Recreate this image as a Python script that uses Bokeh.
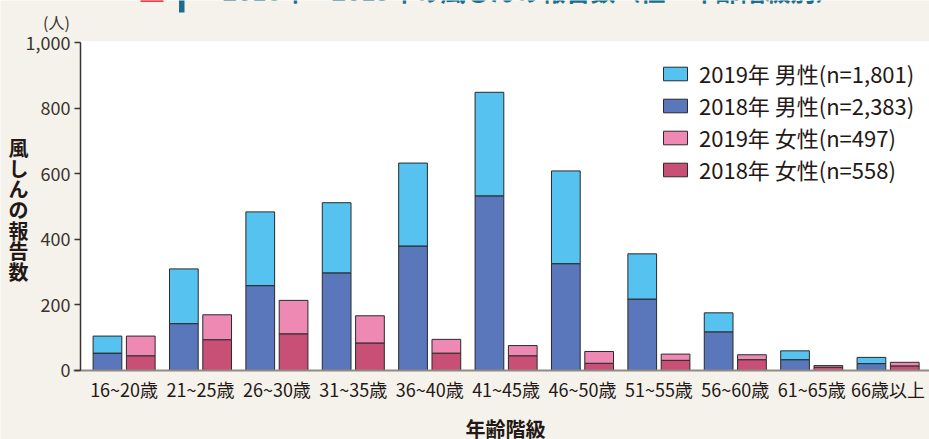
from bokeh.plotting import figure
from bokeh.models import (ColumnDataSource, Range1d, FixedTicker, Legend, LegendItem,
                          Label, BoxAnnotation, NumeralTickFormatter)
from bokeh.embed import file_html
from bokeh.resources import INLINE

# ---- data ----
age_groups = ["16~20歳", "21~25歳", "26~30歳", "31~35歳", "36~40歳", "41~45歳",
              "46~50歳", "51~55歳", "56~60歳", "61~65歳", "66歳以上"]
male_2018 = [53, 143, 259, 298, 380, 533, 326, 218, 118, 33, 21]
male_2019 = [52, 167, 225, 214, 253, 316, 283, 138, 58, 27, 19]
female_2018 = [45, 94, 112, 84, 53, 45, 22, 31, 33, 10, 14]
female_2019 = [60, 76, 102, 83, 42, 31, 36, 19, 15, 5, 11]
legend_labels = ["2019年 男性(n=1,801)", "2018年 男性(n=2,383)",
                 "2019年 女性(n=497)", "2018年 女性(n=558)"]
y_ticks = [0, 200, 400, 600, 800, 1000]
title_text = "2018年・2019年の風しんの報告数（性・年齢階級別）"
y_title = "風しんの報告数"
x_title = "年齢階級"
unit_text = "(人)"

FONT = "Noto Sans CJK JP"
BG = "#f5f2eb"
TXT = "#231815"
W, H = 929, 439

idx = list(range(len(age_groups)))
offset = 0.218
bw = 0.376
src = ColumnDataSource(dict(
    xm=[i - offset for i in idx],
    xf=[i + offset for i in idx],
    m18=male_2018,
    m19top=[a + b for a, b in zip(male_2018, male_2019)],
    f18=female_2018,
    f19top=[a + b for a, b in zip(female_2018, female_2019)],
))

x_axis_at = -0.571   # data x where the y axis sits
p = figure(width=W, height=H, output_backend="svg", toolbar_location=None,
           x_range=Range1d(-1.618, 10.542), y_range=Range1d(-210.6, 1129.1),
           min_border_left=0, min_border_right=0, min_border_top=0,
           min_border_bottom=0)
p.background_fill_color = BG
p.border_fill_color = BG
p.outline_line_color = None
p.xgrid.visible = False
p.ygrid.visible = False

# white plotting area
p.add_layout(BoxAnnotation(left=x_axis_at, bottom=0, top=1005, fill_color="white",
                           fill_alpha=1, line_alpha=0, level="underlay"))

line_kw = dict(line_color="#2a2a2a", line_width=1)
r_m18 = p.vbar(x="xm", width=bw, bottom=0, top="m18", source=src,
               fill_color="#5a77bb", **line_kw)
r_m19 = p.vbar(x="xm", width=bw, bottom="m18", top="m19top", source=src,
               fill_color="#55c2ef", **line_kw)
r_f18 = p.vbar(x="xf", width=bw, bottom=0, top="f18", source=src,
               fill_color="#c85077", **line_kw)
r_f19 = p.vbar(x="xf", width=bw, bottom="f18", top="f19top", source=src,
               fill_color="#ee89b3", **line_kw)

# axes (drawn inside the frame at fixed locations)
xa = p.xaxis[0]
xa.fixed_location = 0
xa.bounds = (-0.66, 10.542)
xa.ticker = FixedTicker(ticks=idx)
xa.major_label_overrides = {i: lab for i, lab in zip(idx, age_groups)}
xa.major_tick_line_color = None
xa.major_tick_out = 0
xa.major_tick_in = 0
xa.minor_tick_line_color = None
xa.axis_line_color = "#8f8a84"
xa.axis_line_width = 2
xa.major_label_text_font = FONT
xa.major_label_text_font_size = "18px"
xa.major_label_text_color = TXT
xa.major_label_standoff = 6

ya = p.yaxis[0]
ya.fixed_location = x_axis_at
ya.bounds = (0, 1000)
ya.ticker = FixedTicker(ticks=y_ticks)
ya.formatter = NumeralTickFormatter(format="0,0")
ya.major_tick_out = 6
ya.major_tick_in = 0
ya.minor_tick_line_color = None
ya.axis_line_color = "#3a3331"
ya.axis_line_width = 1.5
ya.major_tick_line_color = "#3a3331"
ya.major_tick_line_width = 1.5
ya.major_label_text_font = FONT
ya.major_label_text_font_size = "18px"
ya.major_label_text_color = "#3a3331"
ya.major_label_standoff = 4

# legend
legend = Legend(items=[
    LegendItem(label=legend_labels[0], renderers=[r_m19]),
    LegendItem(label=legend_labels[1], renderers=[r_m18]),
    LegendItem(label=legend_labels[2], renderers=[r_f19]),
    LegendItem(label=legend_labels[3], renderers=[r_f18]),
], location=(660, 254), orientation="vertical")
legend.glyph_width = 30
legend.glyph_height = 17
legend.label_height = 25
legend.spacing = -3
legend.padding = 0
legend.margin = 0
legend.label_standoff = 9
legend.label_text_font = FONT
legend.label_text_font_size = "22px"
legend.label_text_color = TXT
legend.background_fill_alpha = 0
legend.border_line_alpha = 0
p.add_layout(legend)

# free texts (screen units: from the canvas' bottom-left, since the frame fills it)
n = len(y_title)
step = 20.7
for k, ch in enumerate(y_title):
    p.add_layout(Label(x=18, y=H - 209 + (n / 2 - k - 0.5) * step,
                       x_units="screen", y_units="screen",
                       text=ch, text_font=FONT, text_font_size="20px",
                       text_font_style="bold", text_color=TXT, text_align="center",
                       text_baseline="middle"))
p.add_layout(Label(x=505, y=H - 428, x_units="screen", y_units="screen",
                   text=x_title, text_font=FONT, text_font_size="20px",
                   text_font_style="bold", text_color=TXT, text_align="center",
                   text_baseline="middle"))
p.add_layout(Label(x=56, y=H - 21, x_units="screen", y_units="screen",
                   text=unit_text, text_font=FONT, text_font_size="16px",
                   text_color="#3a3331", text_align="center", text_baseline="middle"))
p.add_layout(Label(x=222, y=H + 11, x_units="screen", y_units="screen",
                   text=title_text, text_font=FONT, text_font_size="25px",
                   text_font_style="bold", text_color="#1d6e8c",
                   text_align="left", text_baseline="alphabetic"))
p.add_layout(BoxAnnotation(left=140, right=163, bottom=H - 1.3, top=H + 2,
                           left_units="screen", right_units="screen",
                           bottom_units="screen", top_units="screen",
                           fill_color="#e60012", fill_alpha=1, line_alpha=0))
p.add_layout(BoxAnnotation(left=178.5, right=184, bottom=H - 12, top=H + 2,
                           left_units="screen", right_units="screen",
                           bottom_units="screen", top_units="screen",
                           fill_color="#1d6e8c", fill_alpha=1, line_alpha=0))

open("out.html", "w").write(file_html(p, INLINE))
